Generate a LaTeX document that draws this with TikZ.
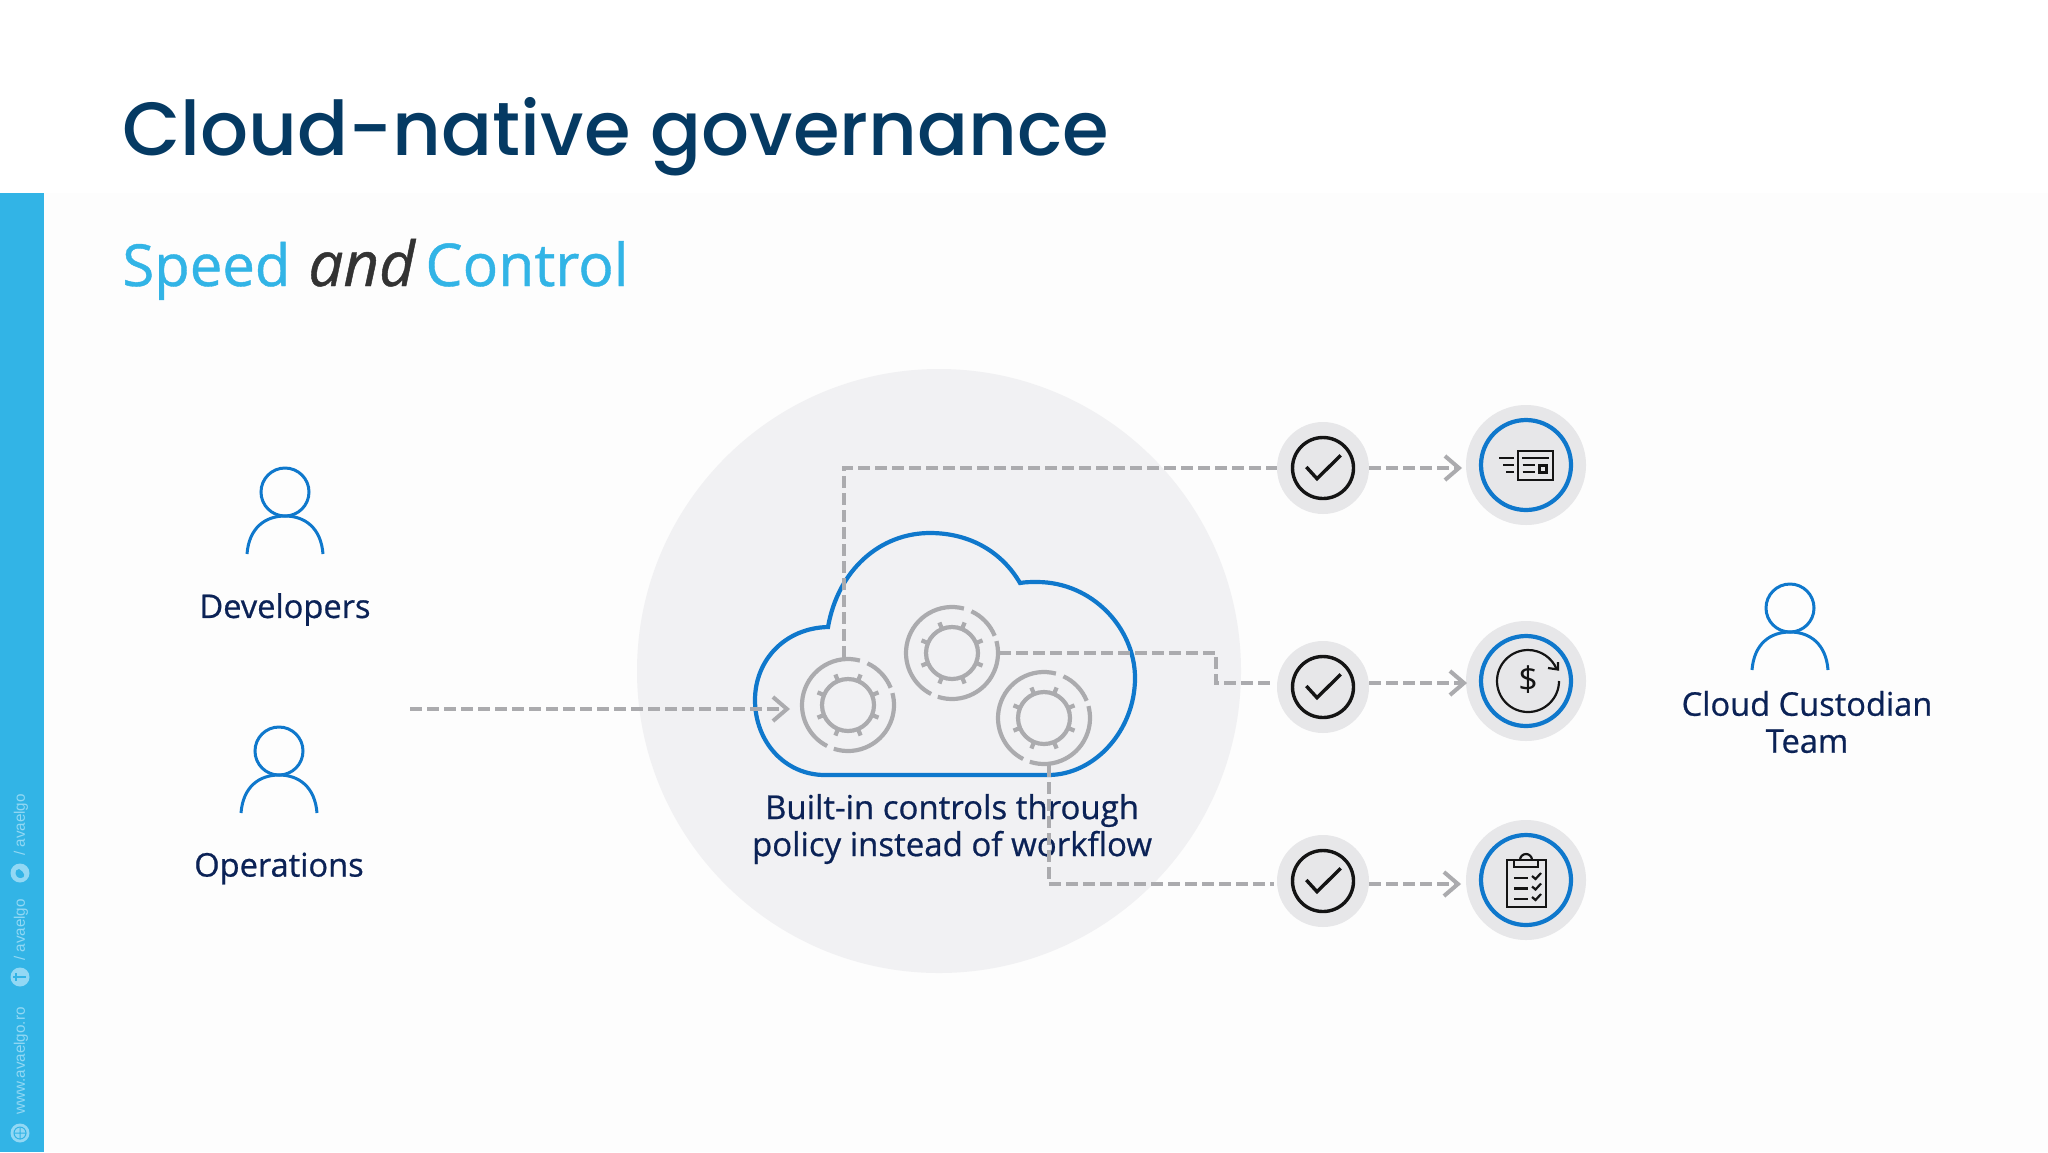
\documentclass[tikz,border=0pt]{standalone}
\usepackage{fontspec}
\setmainfont{Open Sans}
\newfontfamily\titlefont{Poppins Medium}
\newfontfamily\heavyfont[FakeBold=0.7,ItalicFeatures={FakeBold=0.7}]{Open Sans}
\newfontfamily\sidefont{Liberation Sans}
\usetikzlibrary{arrows.meta,calc}
\definecolor{barblue}{HTML}{32B4E6}
\definecolor{sidetext}{HTML}{92D8F4}
\definecolor{titleblue}{HTML}{053A63}
\definecolor{labelblue}{HTML}{0B2256}
\definecolor{iconblue}{HTML}{0F78CC}
\definecolor{dashgrey}{HTML}{ABABAE}
\definecolor{bigdisc}{HTML}{F1F1F3}
\definecolor{smalldisc}{HTML}{E7E7E9}
\definecolor{inkblack}{HTML}{141414}
\definecolor{pagegrey}{HTML}{FDFDFD}
\tikzset{
  label text/.style={font=\heavyfont\fontsize{16.3}{18.5}\selectfont,text=labelblue,align=center,inner sep=0pt},
  side text/.style={font=\sidefont\fontsize{7.6}{8}\selectfont,text=sidetext,rotate=90,inner sep=0pt},
  flow/.style={draw=dashgrey,line width=2pt,dash pattern=on 6pt off 2.5pt},
  flow tip/.style={flow,-{Straight Barb[length=7pt,width=12pt,line width=2pt]}},
  person/.style={draw=iconblue,line width=1.5pt},
  gear line/.style={draw=dashgrey,line width=2.1pt},
  check disc/.style={circle,fill=smalldisc,minimum size=46pt,inner sep=0pt},
  service disc/.style={circle,fill=smalldisc,minimum size=60pt,inner sep=0pt},
  service ring/.style={draw=iconblue,line width=2.1pt},
  ink/.style={draw=inkblack,line width=1.1pt},
  side icon/.style={circle,fill=sidetext,minimum size=9.5pt,inner sep=0pt},
}
\newcommand{\gearicon}[3]{% name, x, y
  \node[circle,minimum size=47pt,inner sep=0pt] (#1) at (#2,#3) {};
  \begin{scope}[shift={(#2,#3)}]
    \draw[gear line] (0,0) circle (26);
    \draw[gear line] (-22:46) arc (-22:-65:46);
    \draw[gear line] (-75:46) arc (-75:-243:46);
    \draw[gear line] (-252:46) arc (-252:-375:46);
    \foreach \a in {22.5,67.5,...,337.5} \draw[gear line] (\a:26) -- (\a:33);
  \end{scope}}
\newcommand{\person}[3]{% x, y of head, name
  \node[circle,person,minimum size=24pt,inner sep=0pt] (#3) at (#1,#2) {};
  \draw[person] ($(#1,#2)+(-38,62)$) .. controls ($(#1,#2)+(-36,36)$) and ($(#1,#2)+(-20,24)$) .. ($(#1,#2)+(0,24)$)
     .. controls ($(#1,#2)+(20,24)$) and ($(#1,#2)+(36,36)$) .. ($(#1,#2)+(38,62)$);}
\newcommand{\checkmark}[1]{%
  \draw[ink,line width=1.7pt] (#1) circle (30.5);
  \draw[ink,line width=1.7pt] ($(#1)+(-16.7,-1)$) -- ($(#1)+(-6,10.7)$) -- ($(#1)+(17.7,-12.7)$);}
\begin{document}
\begin{tikzpicture}[x=0.5pt,y=-0.5pt]
\useasboundingbox (0,0) rectangle (2048,1152);
\fill[white] (0,0) rectangle (2048,1152);
\fill[pagegrey] (44,193) rectangle (2048,1152);
% side bar
\fill[barblue] (0,193) rectangle (44,1152);
\node[side text] (s1) at (21,825) {/ avaelgo};
\node[side text] (s2) at (21,930) {/ avaelgo};
\node[side text] (s3) at (21,1061) {www.avaelgo.ro};
\node[side icon] (i1) at (20,873) {};
\node[side icon] (i2) at (20,977) {};
\node[side icon] (i3) at (20,1133) {};
\draw[barblue,line width=.5pt] (i3) circle (6) (13.5,1133) -- (26.5,1133) (20,1126.5) -- (20,1139.5);
\draw[barblue,line width=.8pt] (13,977) -- (26,977) (16,973) -- (16,981);
\fill[barblue] (19,869) .. controls (14,869) and (14,878) .. (21,878) .. controls (26,878) and (25,872) .. cycle;
% titles
\node[anchor=base west,inner sep=0pt,font=\titlefont\fontsize{37.7}{44}\selectfont,text=titleblue] (title) at (122,155) {Cloud-native governance};
\node[anchor=base west,inner sep=0pt,font=\heavyfont\fontsize{29}{32}\selectfont,text=barblue] (sp) at (122,286) {Speed};
\node[anchor=base west,inner sep=0pt,font=\heavyfont\itshape\fontsize{31}{34}\selectfont,text=black!80] (an) at (308,286) {and};
\node[anchor=base west,inner sep=0pt,font=\heavyfont\fontsize{29.5}{32}\selectfont,text=barblue] (co) at (425,286) {Control};
% large disc
\node[circle,fill=bigdisc,minimum size=302pt,inner sep=0pt] (disc) at (939,671) {};
% cloud
\draw[iconblue,line width=2.1pt,line join=miter] (825,775) .. controls (785,775) and (755,742) .. (755,700)
  .. controls (755,660) and (785,628) .. (828,627)
  .. controls (838,570) and (880,533) .. (930,533)
  .. controls (970,533) and (1002,552) .. (1020,583)
  .. controls (1025,582) and (1032,582) .. (1037,582)
  .. controls (1092,582) and (1135,628) .. (1135,678)
  .. controls (1135,730) and (1095,775) .. (1048,775) -- cycle;
% gears
\gearicon{g1}{848}{705}
\gearicon{g2}{952}{653}
\gearicon{g3}{1044}{718}
% people
\person{285}{492}{dev}
\person{279}{751}{ops}
\person{1790}{608}{cust}
\node[label text] (ldev) at (285,609.5) {Developers};
\node[label text] (lops) at (279,868.5) {Operations};
\node[label text] (lcust) at (1807,722) {Cloud Custodian\\Team};
\node[label text,font=\heavyfont\fontsize{16.5}{18.5}\selectfont] (lbuilt) at (952,829) {Built-in controls through\\policy instead of workflow};
% discs
\node[check disc] (chk1) at (1323,468) {};
\node[check disc] (chk2) at (1323,687) {};
\node[check disc] (chk3) at (1323,881) {};
\node[service disc] (big1) at (1526,465) {};
\node[service disc] (big2) at (1526,681) {};
\node[service disc] (big3) at (1526,880) {};
% connector helpers
\coordinate (inA) at (410,709);
\coordinate (inB) at (790,709);
\coordinate (kneeA) at (1216,653);
\coordinate (kneeB) at (1216,683);
\coordinate (j2) at (1274,683);
\coordinate (j3) at (1274,884);
\coordinate (o2) at (1369,683);
\coordinate (e2) at (1467,683);
\coordinate (o3) at (1369,884);
\coordinate (e3) at (1461,884);
\coordinate (e1) at (1462,468);
% connectors
\draw[flow tip] (inA) -- (inB);
\draw[flow] (g1.95) |- (chk1.west);
\draw[flow] (g2.east) -- (kneeA) -- (kneeB) -- (j2);
\draw[flow] (g3.-84) |- (j3);
\draw[flow tip] (chk1.east) -- (e1);
\draw[flow tip] (o2) -- (e2);
\draw[flow tip] (o3) -- (e3);
% checks
\checkmark{chk1}
\checkmark{chk2}
\checkmark{chk3}
% rings
\draw[service ring] (big1) circle (45);
\draw[service ring] (big2) circle (45);
\draw[service ring] (big3) circle (45);
% newspaper icon
\draw[ink] (1518,451) rectangle (1553,480);
\draw[ink] (1522,458) -- (1549,458) (1522.5,465) -- (1535,465) (1522.5,472) -- (1535,472);
\draw[ink] (1539.5,465.5) rectangle (1546.5,472.5);
\draw[ink] (1499,458) -- (1514,458) (1503,465) -- (1514,465) (1506,472) -- (1514,472);
% dollar icon
\draw[ink] (1559,681) arc (0:338:31);
\draw[ink] (1558,662) -- (1558,669.5) -- (1548,668);
\node[inner sep=0pt,font=\fontsize{17}{19}\selectfont,text=inkblack] (dollar) at (1528,680) {\$};
% clipboard icon
\draw[ink] (1507,860) rectangle (1546,907);
\draw[ink] (1514,860) -- (1514,867) -- (1538,867) -- (1538,860);
\draw[ink] (1520,860) arc (180:360:6);
\foreach \yy in {878,888.5,899} {
  \draw[ink] (1514,\yy) -- (1528,\yy);
  \draw[ink] (1532,\yy-2) -- (1535.5,\yy+1) -- (1541,\yy-5);
}
\end{tikzpicture}
\end{document}
